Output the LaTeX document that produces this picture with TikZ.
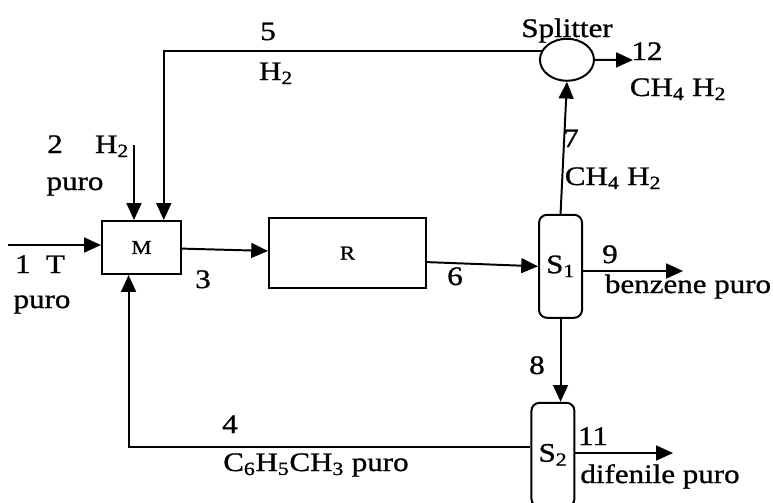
\documentclass[tikz,border=0pt]{standalone}
\usepackage{fontspec}
\setmainfont{Liberation Serif}[FakeStretch=1.16, FakeBold=1]
\usetikzlibrary{shapes.geometric, arrows.meta, positioning, calc}

\begin{document}
\begin{tikzpicture}[
    x=0.025cm, y=-0.025cm,
    every node/.style={font=\fontsize{19}{21}\selectfont},
    unit/.style={rectangle, draw, line width=1.4pt, inner sep=0pt, font=\fontsize{14}{16}\selectfont},
    column/.style={rectangle, draw, rounded corners=0.2cm, line width=1.4pt, inner sep=0pt, minimum width=1.075cm, minimum height=2.575cm},
    splitter/.style={ellipse, draw, line width=1.4pt, inner sep=0pt, minimum width=1.35cm, minimum height=1.05cm},
    flow/.style={-{Triangle[length=4.2mm, width=3.7mm]}, line width=1.4pt},
    stream/.style={inner sep=0pt, anchor=base}
]
\useasboundingbox (0,0) rectangle (773,502);
\clip (0,0) rectangle (773,502);
% Process units
\node[unit, minimum width=1.975cm, minimum height=1.325cm] (M) at (141.5,247.5) {M};
\node[unit, minimum width=3.925cm, minimum height=1.75cm, right=2.15cm of M, yshift=-0.14cm] (R) {R};
\node[column, right=2.775cm of R, yshift=-0.33cm] (S1) {S\textsubscript{1}};
\node[column, below=2.075cm of S1, xshift=-0.19cm, minimum height=2.6cm] (S2) {S\textsubscript{2}};
\node[splitter, above=3.3cm of S1, xshift=0.16cm] (sp) {};
% Feed and product ends
\coordinate (in1) at (8,245);
\coordinate (in2) at (134,145);
\coordinate (out12) at (633,60);
\coordinate (out9) at (683,271);
\coordinate (out11) at (673,453);
% Streams
\draw[flow] (in1) -- (in1 -| M.west);
\draw[flow] (in2) -- (in2 |- M.north);
\draw[flow] (sp.160) -| ($(M.north)!0.55!(M.north east)$);
\draw[flow] (M) -- (R);
\draw[flow] ($(R.east)+(0,9)$) -- (S1.west);
\draw[flow] (S1.north) -- (sp.south);
\draw[flow] (sp.east) -- (out12);
\draw[flow] (out9 -| S1.east) -- (out9);
\draw[flow] (S1.south) -- (S1.south |- S2.north);
\draw[flow] (out11 -| S2.east) -- (out11);
\draw[flow] ($(S2.west)+(0,-8)$) -| ($(M.south)!0.32!(M.south west)$);
% Stream labels
\node[stream] (t1) at (40,273) {1\ \ T};
\node[stream] (p1) at (42,308) {puro};
\node[stream] (t2) at (55,153) {2};
\node[stream] (h2) at (112,153) {H\textsubscript{2}};
\node[stream] (p2) at (75,190) {puro};
\node[stream] (t3) at (203,288) {3};
\node[stream] (t5) at (268,40) {5};
\node[stream] (h5) at (276,80) {H\textsubscript{2}};
\node[stream] (t6) at (455,285) {6};
\node[stream] (tsp) at (567,37) {Splitter};
\node[stream] (t12) at (647,60) {12};
\node[stream] (g12) at (678,96) {CH\textsubscript{4} H\textsubscript{2}};
\node[stream] (t7) at (571,147) {7};
\node[stream] (g7) at (613,185) {CH\textsubscript{4} H\textsubscript{2}};
\node[stream] (t9) at (610,263) {9};
\node[stream] (b9) at (688,293) {benzene puro};
\node[stream] (t8) at (537,374) {8};
\node[stream] (t11) at (593,445) {11};
\node[stream] (d11) at (660,483) {difenile puro};
\node[stream] (t4) at (230,433) {4};
\node[stream, anchor=base west] (c4) at (223,471) {C\textsubscript{6}H\textsubscript{5}CH\textsubscript{3} puro};
\end{tikzpicture}
\end{document}
